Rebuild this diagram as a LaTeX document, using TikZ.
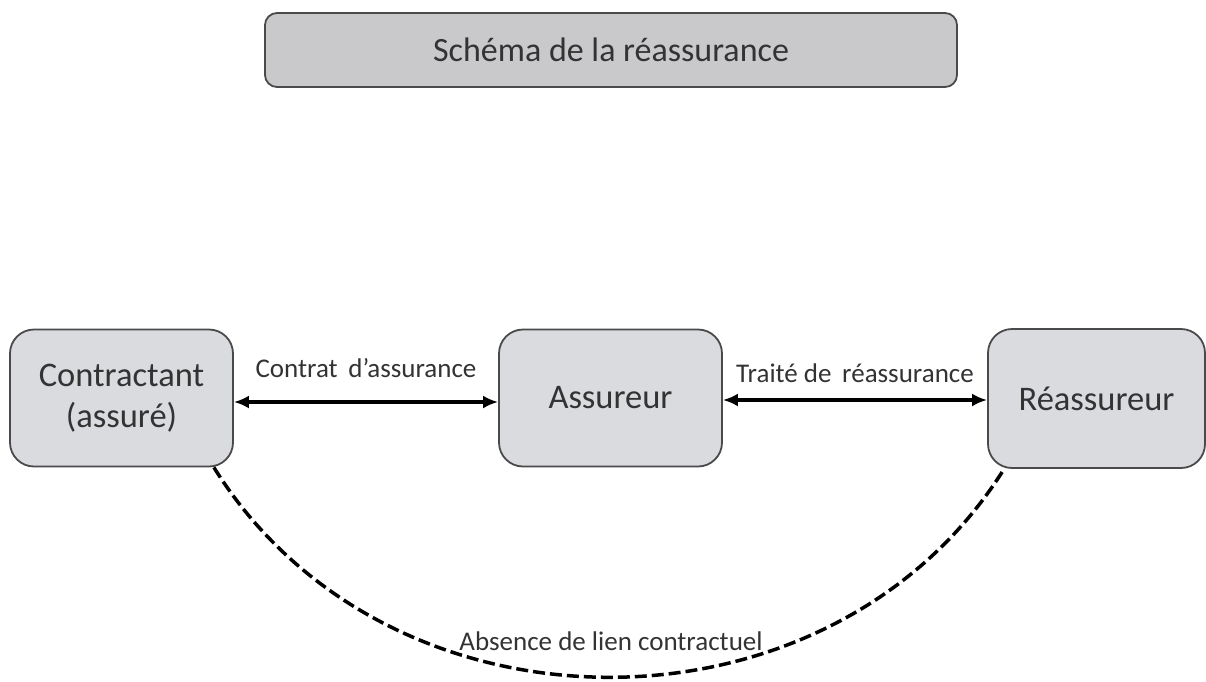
\documentclass[tikz,border=0pt]{standalone}
\usepackage{fontspec}
\setmainfont{Carlito}
\usetikzlibrary{arrows.meta}
\definecolor{boxfill}{HTML}{D9DBDF}
\definecolor{titlefill}{HTML}{C9C9CB}
\definecolor{edge}{HTML}{4A4A4A}
\definecolor{txt}{HTML}{333333}
\begin{document}
\begin{tikzpicture}[x=1pt,y=-1pt,
  party/.style={draw=edge,line width=1.8pt,fill=boxfill,rounded corners=24pt,
    minimum width=#1,minimum height=137pt,inner sep=0pt,align=center,
    text=txt,font=\fontsize{34.5}{41}\selectfont},
  party/.default=224pt,
  lbl/.style={text=txt,font=\fontsize{27}{32}\selectfont,inner sep=0pt},
  link/.style={{Latex[length=15pt,width=13pt]}-{Latex[length=15pt,width=13pt]},line width=4pt,black},
  nolink/.style={line width=3.5pt,black,dash pattern=on 12pt off 5pt}]
\useasboundingbox[fill=white] (0,0) rectangle (1206,681);
\node[draw=edge,line width=1.8pt,fill=titlefill,rounded corners=12pt,
  minimum width=692pt,minimum height=74pt,text=txt,
  font=\fontsize{34}{40}\selectfont] (title) at (611,50) {Schéma de la réassurance};
\node[party=223pt] (c) at (121.5,398) {Contractant\\(assuré)};
\node[party=223pt] (a) at (610.5,398) {Assureur};
\node[party=217pt,minimum height=139pt] (r) at (1096.5,398.5) {Réassureur};
\draw[link] ([yshift=-4pt]c.east) -- node[lbl,above=22pt] (l1) {Contrat\, d’assurance} ([yshift=-4pt]a.west);
\draw[link] ([yshift=-2pt]a.east) -- node[lbl,above=15pt] (l2) {Traité de\, réassurance} ([yshift=-1.5pt]r.west);
\draw[nolink] ([xshift=-20pt]c.south east) .. controls (388,747) and (830,747) .. ([xshift=17pt]r.south west);
\node[lbl] (l3) at (611,641) {Absence de lien contractuel};
\end{tikzpicture}
\end{document}
